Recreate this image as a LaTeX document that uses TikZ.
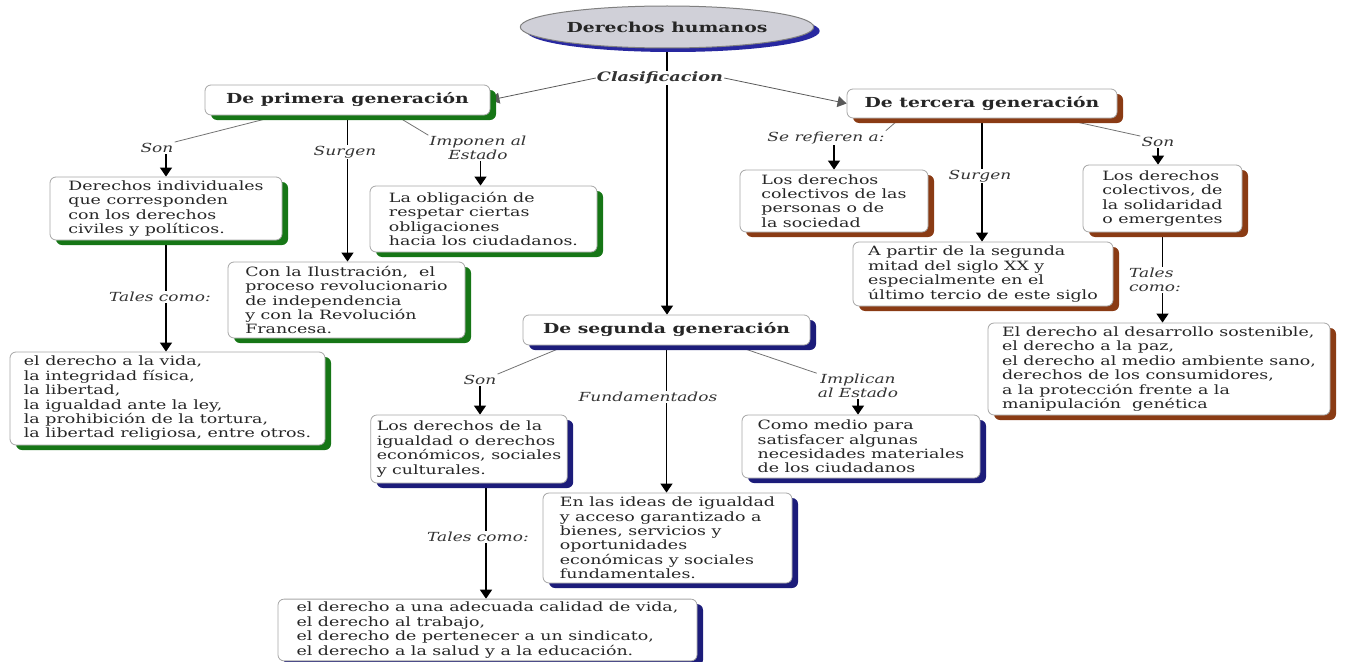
\documentclass[tikz,border=0pt]{standalone}
\usepackage{fontspec}
\setmainfont{DejaVu Serif}[FakeStretch=1.36]
\usetikzlibrary{shapes.geometric,shadows,arrows.meta}
\definecolor{shgreen}{RGB}{22,118,22}
\definecolor{shbrown}{RGB}{138,59,20}
\definecolor{shnavy}{RGB}{28,28,122}
\definecolor{shblue}{RGB}{40,40,160}
\definecolor{ellfill}{RGB}{208,208,216}
\pgfdeclarelayer{bg}
\pgfsetlayers{bg,main}
\begin{document}
\begin{tikzpicture}[x=1pt,y=-1pt,
  box/.style={draw=gray!70, rounded corners=6pt, fill=white, line width=0.8pt,
    align=left, inner xsep=6pt, inner ysep=3pt, text=black!85,
    font=\fontsize{12.8}{14.4}\selectfont},
  bw/.style n args={2}{minimum width=#1pt, minimum height=#2pt},
  title/.style={box, font=\bfseries\fontsize{13.8}{15}\selectfont, align=center},
  gsh/.style={drop shadow={shadow xshift=6pt, shadow yshift=-5pt, fill=shgreen, opacity=1}},
  bsh/.style={drop shadow={shadow xshift=6pt, shadow yshift=-5pt, fill=shbrown, opacity=1}},
  nsh/.style={drop shadow={shadow xshift=6pt, shadow yshift=-5pt, fill=shnavy, opacity=1}},
  ell/.style={ellipse, draw=gray, line width=1pt, fill=ellfill, minimum width=250pt, minimum height=42pt,
    font=\bfseries\fontsize{13.8}{15}\selectfont, text=black!85,
    drop shadow={shadow xshift=6pt, shadow yshift=-4pt, fill=shblue, opacity=1}},
  lab/.style={fill=white, inner sep=1pt, align=center, text=black!80,
    font=\itshape\fontsize{12.5}{13.5}\selectfont},
  arr/.style={draw=black, line width=1.2pt, -{Triangle[width=12pt,length=9pt]}},
  tarr/.style={draw=black!65, line width=0.8pt, -{Triangle[width=11pt,length=9pt]}},
  thinl/.style={draw=black!55, line width=0.8pt}
]
\useasboundingbox (0,0) rectangle (1348,661);

% root
\node[ell] (E) at (667,27) {Derechos humanos};
\node[lab, font=\bfseries\itshape\fontsize{13}{15}\selectfont] (cl) at (660,78) {Clasificacion};

% generation boxes
\node[title, gsh, minimum width=285pt, minimum height=30pt] (P) at (347.5,100) {De primera generación};
\node[title, bsh, minimum width=270pt, minimum height=29pt] (T) at (982,103.5) {De tercera generación};
\node[title, nsh, minimum width=287pt, minimum height=30pt] (S) at (666.5,330) {De segunda generación};

% primera
\node[box, gsh, bw={232}{63}] (P1) at (166,208.5) {Derechos individuales\\que corresponden\\con los derechos\\civiles y políticos.};
\node[box, gsh, bw={237}{76}] (P2) at (346.5,300) {Con la Ilustración,~ el\\proceso revolucionario\\de independencia\\y con la Revolución\\Francesa.};
\node[box, gsh, bw={227}{66}] (P3) at (483.5,219) {La obligación de\\respetar ciertas\\obligaciones\\hacia los ciudadanos.};
\node[box, gsh, bw={315}{93}] (P4) at (167.5,398.5) {el derecho a la vida,\\la integridad física,\\la libertad,\\la igualdad ante la ley,\\la prohibición de la tortura,\\la libertad religiosa, entre otros.};

% segunda
\node[box, nsh, bw={192}{68}] (S1) at (469,449) {Los derechos de la\\igualdad o derechos\\económicos, sociales\\y culturales.};
\node[box, nsh, bw={249}{90}] (S2) at (667.5,538) {En las ideas de igualdad\\y acceso garantizado a\\bienes, servicios y\\oportunidades\\económicas y sociales\\fundamentales.};
\node[box, nsh, bw={238}{63}] (S3) at (861,446.5) {Como medio para\\satisfacer algunas\\necesidades materiales\\de los ciudadanos};
\node[box, nsh, bw={419}{60}] (S4) at (487.5,630) {el derecho a una adecuada calidad de vida,\\el derecho al trabajo,\\el derecho de pertenecer a un sindicato,\\el derecho a la salud y a la educación.};

% tercera
\node[box, bsh, bw={188}{62}] (T1) at (834,201) {Los derechos\\colectivos de las\\personas o de\\la sociedad};
\node[box, bsh, bw={260}{64}] (T2) at (983,274) {A partir de la segunda\\mitad del siglo XX y\\especialmente en el\\último tercio de este siglo};
\node[box, bsh, bw={159}{67}] (T3) at (1162.5,198.5) {Los derechos\\colectivos, de\\la solidaridad\\o emergentes};
\node[box, bsh, bw={342}{92}] (T4) at (1159,369) {El derecho al desarrollo sostenible,\\el derecho a la paz,\\el derecho al medio ambiente sano,\\derechos de los consumidores,\\a la protección frente a la\\manipulación~ genética};

% labels
\node[lab] (pson) at (157,148) {Son};
\node[lab] (psur) at (345,152) {Surgen};
\node[lab] (pimp) at (478,148) {Imponen al\\Estado};
\node[lab] (ptal) at (160,297) {Tales como:};
\node[lab] (sson) at (480,380) {Son};
\node[lab] (sfund) at (648,397) {Fundamentados};
\node[lab] (simp) at (858,386) {Implican\\al Estado};
\node[lab] (stal) at (478,537) {Tales como:};
\node[lab] (tse) at (826,138) {Se refieren a:};
\node[lab] (tsur) at (980,176) {Surgen};
\node[lab] (tson) at (1158,142) {Son};
\node[lab, align=left] (ttal) at (1155,280) {Tales\\como:};

\begin{pgfonlayer}{bg}
\draw[arr] (E.south) -- (E.south |- S.north);
\draw[tarr] (cl.west) -- (P.east);
\draw[tarr] (cl.east) -- (T.west);
% primera
\draw[thinl] ([xshift=-68pt]P.south) -- (pson.north east);
\draw[arr] (P1.north |- pson.south) -- (P1.north);
\draw[arr] (P.south) -- (P.south |- P2.north);
\draw[thinl] ([xshift=48pt]P.south) -- (pimp.north west);
\draw[arr] ([xshift=-3pt]P3.north |- pimp.south) -- ([xshift=-3pt]P3.north);
\draw[arr] (P1.south) -- (P1.south |- P4.north);
% segunda
\draw[thinl] ([xshift=-100pt]S.south) -- (sson.north east);
\draw[arr] (sson.south) -- (sson.south |- S1.north);
\draw[arr] (S.south) -- (S.south |- S2.north);
\draw[thinl] ([xshift=68pt]S.south) -- (simp.north west);
\draw[arr] (simp.south) -- (simp.south |- S3.north);
\draw[arr] ([xshift=17pt]S1.south) -- ([xshift=17pt]S1.south |- S4.north);
% tercera
\draw[thinl] ([xshift=-82pt]T.south) -- (tse.north east);
\draw[arr] (T1.north |- tse.south) -- (T1.north);
\draw[arr] (T.south) -- (T.south |- T2.north);
\draw[thinl] ([xshift=78pt]T.south) -- (tson.north west);
\draw[arr] (tson.south) -- (tson.south |- T3.north);
\draw[arr] (T3.south) -- (T3.south |- T4.north);
\end{pgfonlayer}
\end{tikzpicture}
\end{document}
